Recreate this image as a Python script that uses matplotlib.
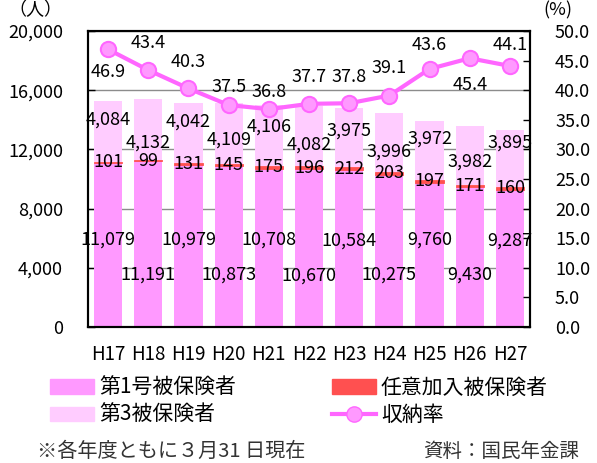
import matplotlib
matplotlib.use('Agg')
import matplotlib.pyplot as plt
from matplotlib.patches import Patch
from matplotlib.lines import Line2D
import numpy as np

plt.rcParams['font.family'] = ['Noto Sans CJK JP', 'DejaVu Sans']

# data (persons / collection rate %)
years = ['H17', 'H18', 'H19', 'H20', 'H21', 'H22', 'H23', 'H24', 'H25', 'H26', 'H27']
first_ins = [11079, 11191, 10979, 10873, 10708, 10670, 10584, 10275, 9760, 9430, 9287]
voluntary = [101, 99, 131, 145, 175, 196, 212, 203, 197, 171, 160]
third_ins = [4084, 4132, 4042, 4109, 4106, 4082, 3975, 3996, 3972, 3982, 3895]
rate = [46.9, 43.4, 40.3, 37.5, 36.8, 37.7, 37.8, 39.1, 43.6, 45.4, 44.1]

# label placement (as in the original, hand-placed)
first_lab_y = [5880, 3510, 5880, 3510, 5880, 3480, 5820, 3560, 5880, 3530, 5820]
third_lab_y = [13990, 12490, 13850, 12640, 13510, 12300, 13240, 11820, 12700, 11150, 12430]
rate_lab_y = [43.1, 48.0, 44.8, 40.5, 39.7, 42.2, 42.2, 43.7, 47.6, 40.9, 47.6]

c_first = '#FF99FF'
c_vol = '#FF5050'
c_third = '#FFCCFF'
c_line = '#FF66FF'
fs = 13

fig = plt.figure(figsize=(5.97, 4.63), dpi=100)
ax = fig.add_axes([0.1474, 0.2937, 0.7404, 0.6393])

x = np.arange(len(years))
d1 = np.array(first_ins)
d2 = np.array(voluntary)
d3 = np.array(third_ins)

w = 0.7
ax.bar(x, d1, width=w, color=c_first, zorder=2)
ax.bar(x, d2, width=w, bottom=d1, color=c_vol, edgecolor=c_vol, linewidth=0.6, zorder=2)
ax.bar(x, d3, width=w, bottom=d1 + d2, color=c_third, zorder=2)

ax.set_xlim(-0.5, len(years) - 0.5)
ax.set_ylim(0, 20000)
ax.set_yticks(range(0, 20001, 4000))
ax.set_yticklabels([f'{v:,}' for v in range(0, 20001, 4000)], fontsize=fs)
ax.set_xticks(x)
ax.set_xticklabels(years, fontsize=13.5)
ax.tick_params(axis='x', length=0, pad=12)
ax.tick_params(axis='y', direction='in', length=5, pad=18, width=1)
ax.yaxis.grid(True, color='#8c8c8c', linewidth=1)
ax.set_axisbelow(True)
for s in ax.spines.values():
    s.set_linewidth(1.5)

for i in range(len(years)):
    ax.text(x[i], first_lab_y[i], f'{first_ins[i]:,}', ha='center', va='center', fontsize=fs, zorder=5)
    ax.text(x[i], d1[i] + d2[i] / 2, f'{voluntary[i]:,}', ha='center', va='center', fontsize=fs, zorder=5)
    ax.text(x[i], third_lab_y[i], f'{third_ins[i]:,}', ha='center', va='center', fontsize=fs, zorder=5)

ax2 = ax.twinx()
ax2.plot(x, rate, color=c_line, linewidth=3, marker='o', markersize=11,
         markerfacecolor=c_first, markeredgecolor=c_line, markeredgewidth=1.5, zorder=3)
ax2.set_ylim(0, 50)
ax2.set_yticks(np.arange(0, 50.1, 5))
ax2.set_yticklabels([f'{v:.1f}' for v in np.arange(0, 50.1, 5)], fontsize=fs)
ax2.tick_params(axis='y', direction='in', length=5, pad=18, width=1)
for s in ax2.spines.values():
    s.set_linewidth(1.5)
for i in range(len(years)):
    ax2.text(x[i], rate_lab_y[i], f'{rate[i]:.1f}', ha='center', va='center', fontsize=fs, zorder=5)

# unit labels
fig.text(0.06, 0.998, '（人）', ha='center', va='top', fontsize=fs)
fig.text(0.935, 0.998, '(%)', ha='center', va='top', fontsize=fs)

# legend, two columns anchored separately
leg_kw = dict(loc='upper left', frameon=False, fontsize=15, handlelength=2.1,
              handletextpad=0.25, labelspacing=0.25, borderaxespad=0, borderpad=0)
h1 = [Patch(color=c_first), Patch(color=c_third)]
l1 = ['第1号被保険者', '第3被保険者']
h2 = [Patch(color=c_vol),
      Line2D([], [], color=c_line, linewidth=3, marker='o', markersize=11,
             markerfacecolor=c_first, markeredgecolor=c_line)]
l2 = ['任意加入被保険者', '収納率']
fig.legend(h1, l1, bbox_to_anchor=(0.0838, 0.186), **leg_kw)
fig.legend(h2, l2, bbox_to_anchor=(0.556, 0.186), **leg_kw)

fig.text(0.062, 0.024, '※各年度ともに３月31 日現在', ha='left', va='center', fontsize=14.5, color='#333333')
fig.text(0.97, 0.024, '資料：国民年金課', ha='right', va='center', fontsize=14, color='#333333')

fig.savefig('out.png', dpi=100)
